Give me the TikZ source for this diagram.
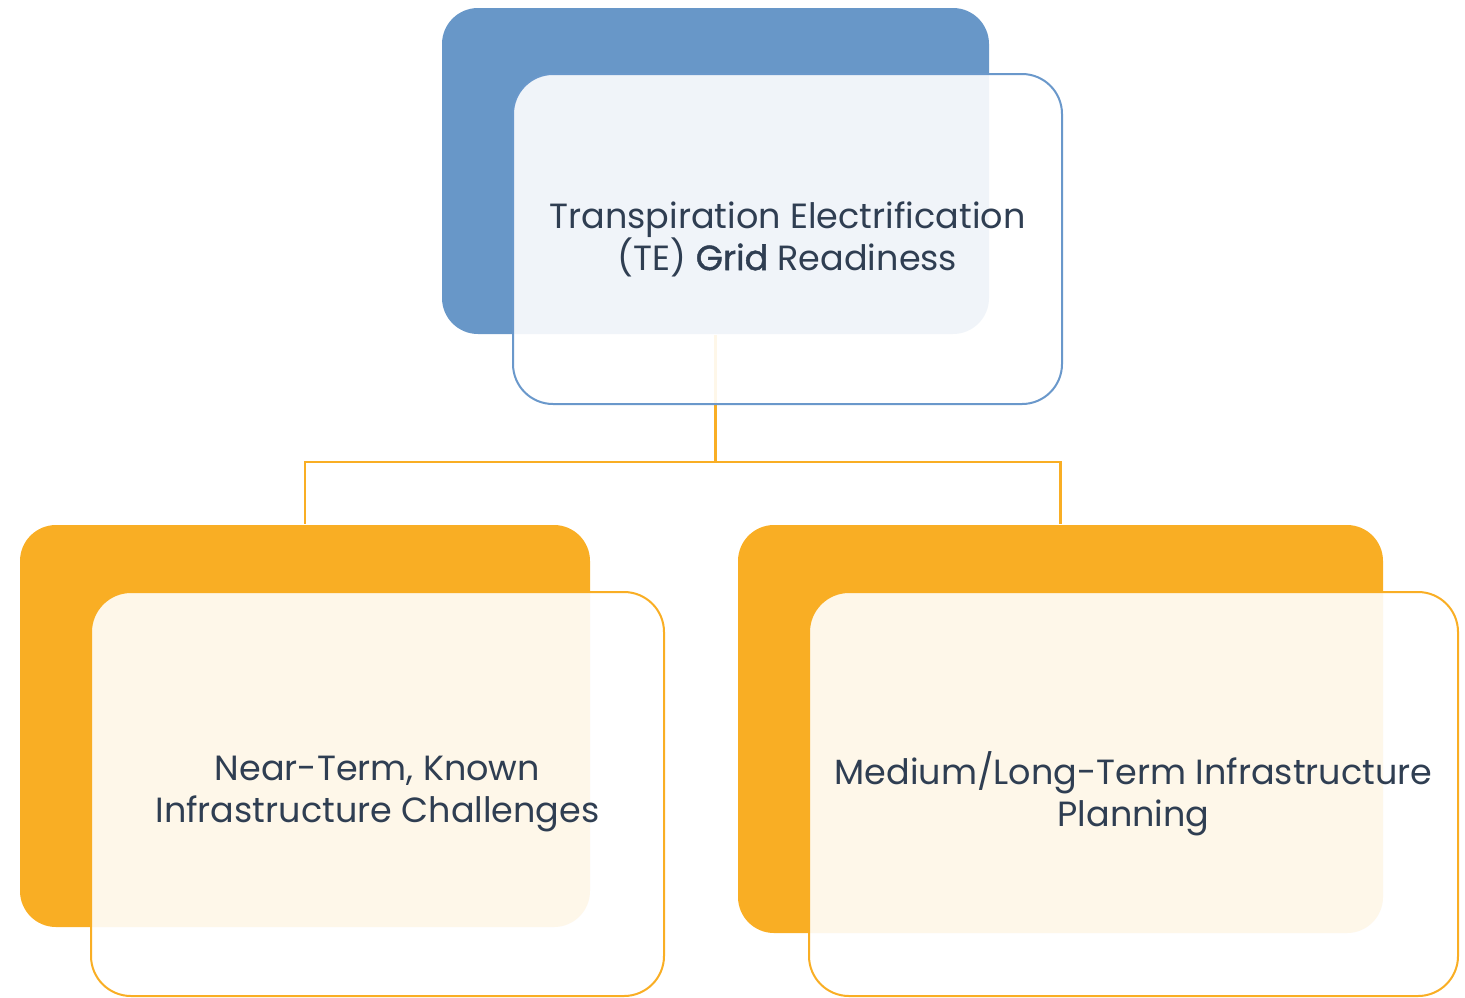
\documentclass[tikz,border=0pt]{standalone}
\usepackage{fontspec}
\setmainfont{Poppins}
\newfontfamily\gridweight{Poppins}[FakeBold=1.2]
\usetikzlibrary{positioning}

\definecolor{tileblue}{HTML}{6897C8}
\definecolor{lineblue}{HTML}{6A98CB}
\definecolor{tileorange}{HTML}{F9AE24}
\definecolor{inktext}{HTML}{2F3E52}

\begin{document}
\begin{tikzpicture}[x=0.5pt,y=-0.5pt,thick]
\tikzstyle{back}=[shape=rectangle,rounded corners=18pt,draw=none,inner sep=0pt]
\tikzstyle{front}=[shape=rectangle,rounded corners=20pt,fill=white,fill opacity=0.9,text opacity=1,line width=1pt,inner sep=0pt,text=inktext,align=center,font=\fontsize{17.5}{21}\selectfont]
\tikzstyle{link}=[draw=tileorange,line width=1.2pt]

\useasboundingbox (0,0) rectangle (1465,997);

\node[back,fill=tileblue,minimum width=273.5pt,minimum height=163pt]   (topback)   at (715.5,171) {};
\node[back,fill=tileorange,minimum width=285pt,minimum height=201pt]   (leftback)  at (305,726) {};
\node[back,fill=tileorange,minimum width=322.5pt,minimum height=204pt] (rightback) at (1060.5,729) {};
\coordinate (split) at (715.5,462);

\path[link]
(topback.south) -- (split) -| (leftback.north)
(split) -| (rightback.north)
;

\node[front,draw=lineblue,minimum width=274.5pt,minimum height=165pt]   (topfront)   at (787.5,239)
  {Transpiration Electrification\\(TE) {\gridweight Grid} Readiness};
\node[front,draw=tileorange,minimum width=286.5pt,minimum height=202pt] (leftfront)  at (377.5,794)
  {Near-Term, Known\\Infrastructure Challenges};
\node[front,draw=tileorange,minimum width=324.5pt,minimum height=202pt] (rightfront) at (1133.5,794)
  {Medium/Long-Term Infrastructure\\Planning};
\end{tikzpicture}
\end{document}
